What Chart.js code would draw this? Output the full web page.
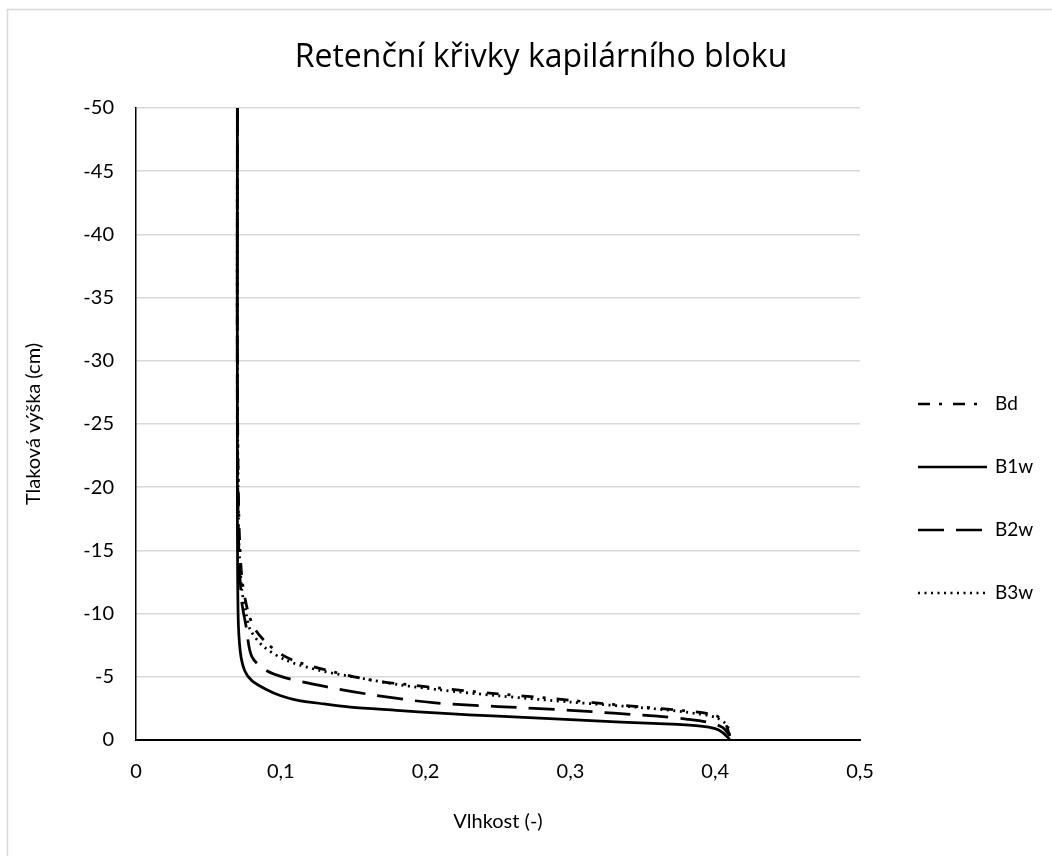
<!DOCTYPE html>
<html>
<head>
<meta charset="utf-8">
<script src="https://cdn.jsdelivr.net/npm/chart.js@4.4.1/dist/chart.umd.min.js"></script>
<style>
  html, body { margin: 0; padding: 0; background: #fff; }
  #wrap { position: relative; width: 1052px; height: 856px; }
</style>
</head>
<body>
<div id="wrap"><canvas id="chart"></canvas></div>
<script>
// Retenční křivky kapilárního bloku (vlhkost, tlaková výška)
const chartTitle = 'Retenční křivky kapilárního bloku';
const seriesNames = ['Bd', 'B1w', 'B2w', 'B3w'];

const bdTheta = [0.070, 0.070, 0.071, 0.073, 0.077, 0.082, 0.090, 0.100, 0.111, 0.136, 0.164, 0.190, 0.210, 0.250, 0.300, 0.316, 0.350, 0.380, 0.400, 0.407, 0.410];
const bdH     = [-50,   -30,   -18,   -13,   -10.3, -8.8,  -7.7,  -6.8,  -6.2,  -5.4,  -4.7,  -4.35, -4.1,  -3.65, -3.15, -2.95, -2.6,  -2.3,  -1.95, -1.3,  -0.3];

const b1Theta = [0.070, 0.070, 0.0705, 0.072, 0.075, 0.080, 0.090, 0.100, 0.111, 0.130, 0.148, 0.180, 0.210, 0.250, 0.300, 0.335, 0.370, 0.390, 0.400, 0.405, 0.410];
const b1H     = [-50,   -20,   -10,    -7,    -5.5,  -4.7,  -4.0,  -3.5,  -3.16, -2.85, -2.6,  -2.35, -2.12, -1.88, -1.62, -1.42, -1.25, -1.1,  -0.9,  -0.6,  -0.05];

const b2Theta = [0.070, 0.070, 0.071, 0.073, 0.076, 0.080, 0.090, 0.104, 0.132, 0.164, 0.205, 0.250, 0.300, 0.330, 0.360, 0.380, 0.395, 0.405, 0.410];
const b2H     = [-50,   -25,   -15,   -11,   -9,    -6.6,  -5.5,  -4.9,  -4.2,  -3.56, -2.95, -2.65, -2.35, -2.12, -1.88, -1.65, -1.4,  -1.0,  -0.35];

const b3Theta = [0.070, 0.070, 0.071, 0.073, 0.076, 0.079, 0.088, 0.104, 0.127, 0.155, 0.183, 0.210, 0.250, 0.300, 0.350, 0.380, 0.400, 0.408, 0.410];
const b3H     = [-50,   -30,   -16,   -12,   -10,   -8.7,  -7.4,  -6.3,  -5.5,  -4.9,  -4.35, -3.96, -3.5,  -3.0,  -2.55, -2.2,  -1.8,  -1.2,  -0.4];

const xTicks = [0, 0.1, 0.2, 0.3, 0.4, 0.5];
const yTicks = [-50, -45, -40, -35, -30, -25, -20, -15, -10, -5, 0];

const toPoints = (xs, ys) => xs.map((x, i) => ({ x, y: ys[i] }));
const FONT = 'Lato, "Open Sans", sans-serif';

const dashes = [[12, 9, 3, 11], [], [26, 12], [2, 4.5]];
const pairs = [[bdTheta, bdH], [b1Theta, b1H], [b2Theta, b2H], [b3Theta, b3H]];

// okraj kolem celého grafu + nadpis (vycentrovaný na celou plochu jako v Excelu)
const frame = {
    id: 'frame',
    beforeDraw(chart) {
        const c = chart.ctx;
        c.save();
        c.strokeStyle = '#d9d9d9';
        c.lineWidth = 1.5;
        c.strokeRect(7.5, 9.5, 1200, 1200);
        c.fillStyle = '#000';
        c.font = '32px "Open Sans", sans-serif';
        c.textAlign = 'center';
        c.textBaseline = 'middle';
        c.fillText(chartTitle, 541, 58);
        c.restore();
    },
};

// legenda vpravo s ukázkou stylu čáry
const lineLegend = {
    id: 'lineLegend',
    afterDraw(chart) {
        const c = chart.ctx;
        c.save();
        chart.data.datasets.forEach((ds, i) => {
            const y = 404 + i * 63;
            c.beginPath();
            c.setLineDash(ds.borderDash || []);
            c.lineWidth = 2.5;
            c.strokeStyle = '#000';
            c.moveTo(918, y);
            c.lineTo(987, y);
            c.stroke();
            c.setLineDash([]);
            c.fillStyle = '#000';
            c.font = '19px ' + FONT;
            c.textBaseline = 'middle';
            c.textAlign = 'left';
            c.fillText(ds.label, 995, y);
        });
        c.restore();
    },
};

new Chart(document.getElementById('chart'), {
    type: 'scatter',
    data: {
        datasets: seriesNames.map((name, i) => ({
            label: name,
            data: toPoints(pairs[i][0], pairs[i][1]),
            showLine: true,
            borderColor: '#000',
            borderWidth: 2.75,
            borderDash: dashes[i],
            pointRadius: 0,
            tension: 0.3,
            fill: false,
        })),
    },
    options: {
        responsive: true,
        maintainAspectRatio: false,
        animation: false,
        layout: { padding: { left: 10, right: 192, top: 108, bottom: 10 } },
        plugins: {
            legend: { display: false },
            tooltip: { enabled: false },
            title: { display: false },
        },
        scales: {
            x: {
                type: 'linear',
                min: 0,
                max: 0.5,
                z: 1,
                afterFit: (s) => { s.height = 106; },
                afterBuildTicks: (s) => { s.ticks = xTicks.map((v) => ({ value: v })); },
                grid: { display: false },
                border: { display: true, color: '#000', width: 2 },
                ticks: {
                    color: '#000',
                    padding: 12,
                    font: { family: FONT, size: 20 },
                    callback: (v) => String(Number(v.toFixed(1))).replace('.', ','),
                },
                title: {
                    display: true,
                    text: 'Vlhkost (-)',
                    color: '#000',
                    padding: 12,
                    font: { family: FONT, size: 20 },
                },
            },
            y: {
                type: 'linear',
                min: -50,
                max: 0,
                reverse: true,
                afterFit: (s) => { s.width = 126; },
                afterBuildTicks: (s) => { s.ticks = yTicks.map((v) => ({ value: v })); },
                grid: { color: '#d9d9d9', lineWidth: 1.5, drawTicks: false },
                border: { display: true, color: '#000', width: 1.5 },
                ticks: {
                    color: '#000',
                    padding: 22,
                    font: { family: FONT, size: 20 },
                },
                title: {
                    display: true,
                    text: 'Tlaková výška (cm)',
                    color: '#000',
                    padding: 12,
                    font: { family: FONT, size: 20 },
                },
            },
        },
    },
    plugins: [frame, lineLegend],
});
</script>
</body>
</html>
